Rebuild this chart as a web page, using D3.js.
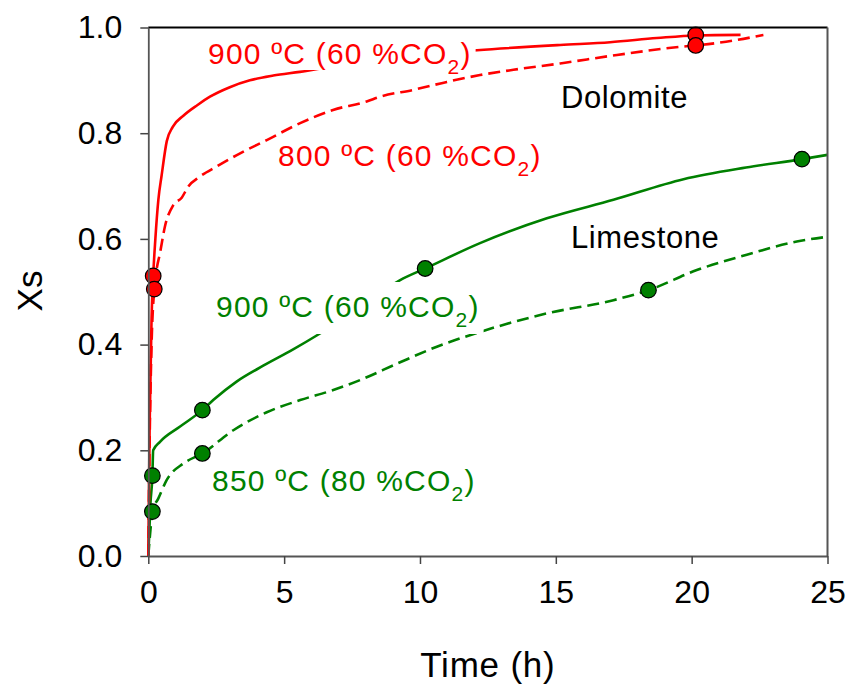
<!DOCTYPE html>
<html>
<head>
<meta charset="utf-8">
<script src="https://cdn.jsdelivr.net/npm/d3@7"></script>
<style>
    body { margin: 0; background: #fff; }
    text { font-family: Arial, "Liberation Sans", sans-serif; }
</style>
</head>
<body>
<svg id="chart" width="853" height="691"></svg>
<script>
// conversion curves (time in h, Xs)
const dolo900T = [0, 0.05, 0.12, 0.18, 0.26, 0.37, 0.49, 0.68, 0.9, 1.29, 1.8, 2.27, 3.0, 3.74, 4.6, 5.58, 7.5, 9.5, 12.1, 15.16, 17.0, 18.72, 20.15, 21.8];
const dolo900X = [0, 0.25, 0.45, 0.53, 0.6, 0.674, 0.72, 0.785, 0.812, 0.833, 0.853, 0.869, 0.887, 0.9, 0.909, 0.916, 0.932, 0.945, 0.957, 0.967, 0.972, 0.98, 0.985, 0.986];

const dolo800T = [0, 0.05, 0.12, 0.22, 0.3, 0.43, 0.61, 0.92, 1.23, 1.47, 1.9, 2.52, 3.38, 4.36, 5.59, 6.8, 8.04, 8.53, 9.76, 10.99, 12.21, 13.44, 15.16, 17.25, 19.7, 20.15, 21.5, 22.64];
const dolo800X = [0, 0.22, 0.4, 0.505, 0.54, 0.573, 0.623, 0.664, 0.678, 0.699, 0.718, 0.737, 0.762, 0.787, 0.819, 0.844, 0.86, 0.869, 0.882, 0.897, 0.91, 0.92, 0.932, 0.948, 0.964, 0.966, 0.975, 0.986];

const lime900T = [0, 0.08, 0.15, 0.18, 0.43, 1.17, 1.99, 2.39, 3.25, 4.23, 5.3, 6.32, 7.8, 9.27, 10.19, 12.21, 14.67, 17.12, 19.7, 22.0, 24.06, 25];
const lime900X = [0, 0.1, 0.152, 0.2, 0.216, 0.245, 0.276, 0.295, 0.33, 0.36, 0.39, 0.421, 0.47, 0.522, 0.544, 0.592, 0.639, 0.674, 0.713, 0.735, 0.751, 0.759];

const lime850T = [0, 0.08, 0.15, 0.37, 0.68, 1.29, 1.99, 3.13, 4.36, 5.59, 6.81, 7.8, 9.2, 10.62, 12.21, 14.67, 17.12, 18.41, 20.19, 22.03, 23.87, 25];
const lime850X = [0, 0.05, 0.084, 0.109, 0.144, 0.175, 0.194, 0.238, 0.272, 0.295, 0.314, 0.333, 0.365, 0.396, 0.424, 0.459, 0.484, 0.503, 0.541, 0.57, 0.595, 0.604];

// marked points
const redMarkT = [0.18, 0.22, 20.15, 20.15];
const redMarkX = [0.53, 0.505, 0.986, 0.966];
const greenMarkT = [0.15, 0.15, 1.99, 1.99, 10.19, 18.41, 24.06];
const greenMarkX = [0.152, 0.084, 0.276, 0.194, 0.544, 0.503, 0.751];

const xTicks = [0, 5, 10, 15, 20, 25];
const yTicks = [0, 0.2, 0.4, 0.6, 0.8, 1.0];

const RED = "#ff0000";
const GREEN = "#008000";

const svg = d3.select("#chart");
const margin = {left: 148.3, right: 25.5, top: 27.5, bottom: 135};
const width = 853 - margin.left - margin.right;
const height = 691 - margin.top - margin.bottom;

const x = d3.scaleLinear().domain([0, 25]).range([0, width]);
const y = d3.scaleLinear().domain([0, 1]).range([height, 0]);

const g = svg.append("g").attr("transform", `translate(${margin.left},${margin.top})`);

let zip = (ts, xs) => ts.map((t, i) => ({t: t, v: xs[i]}));
let line = d3.line().curve(d3.curveMonotoneX).x(d => x(d.t)).y(d => y(d.v));

const curves = [
    {data: zip(lime850T, lime850X), color: GREEN, dash: "12,6"},
    {data: zip(lime900T, lime900X), color: GREEN, dash: null},
    {data: zip(dolo800T, dolo800X), color: RED, dash: "12,6"},
    {data: zip(dolo900T, dolo900X), color: RED, dash: null}
];

g.selectAll(".curve")
    .data(curves)
    .enter()
    .append("path")
    .attr("class", "curve")
    .attr("d", d => line(d.data))
    .attr("fill", "none")
    .attr("stroke", d => d.color)
    .attr("stroke-width", 2.6)
    .attr("stroke-dasharray", d => d.dash);

// labels (white box hides the line behind, like the original)
const labels = [
    {x: 208, y: 64, main: "900 ºC (60 %CO", color: RED, box: [-31, 6]},
    {x: 278, y: 166, main: "800 ºC (60 %CO", color: RED, box: null},
    {x: 216, y: 317, main: "900 ºC (60 %CO", color: GREEN, box: [-35, 17]},
    {x: 212, y: 491, main: "850 ºC (80 %CO", color: GREEN, box: null}
];

labels.forEach(l => {
    let grp = svg.append("g");
    let rect = grp.append("rect").attr("fill", "#fff");
    let txt = grp.append("text")
        .attr("x", l.x)
        .attr("y", l.y)
        .attr("fill", l.color)
        .style("font-size", "30px")
        .style("letter-spacing", "1.2px");
    txt.append("tspan").text(l.main);
    txt.append("tspan").attr("dy", 10).style("font-size", "21px").text("2");
    txt.append("tspan").attr("dy", -10).text(")");
    if (l.box) {
        let bb = txt.node().getBBox();
        rect.attr("x", bb.x - 2).attr("y", l.y + l.box[0])
            .attr("width", bb.width + 6).attr("height", l.box[1] - l.box[0]);
    } else {
        rect.remove();
    }
});

svg.append("text").attr("x", 561).attr("y", 108).style("font-size", "31px")
    .style("letter-spacing", "0.6px").attr("fill", "#000").text("Dolomite");
svg.append("text").attr("x", 571).attr("y", 248).style("font-size", "31px")
    .style("letter-spacing", "0.6px").attr("fill", "#000").text("Limestone");

// markers
let marks = zip(greenMarkT, greenMarkX).map(d => ({...d, color: GREEN}))
    .concat(zip(redMarkT, redMarkX).map(d => ({...d, color: RED})));
g.selectAll(".mark")
    .data(marks)
    .enter()
    .append("circle")
    .attr("class", "mark")
    .attr("cx", d => x(d.t))
    .attr("cy", d => y(d.v))
    .attr("r", 7.8)
    .attr("fill", d => d.color)
    .attr("stroke", "#000")
    .attr("stroke-width", 1.2);

// frame
g.append("line").attr("x1", 0).attr("x2", width).attr("y1", 0).attr("y2", 0)
    .attr("stroke", "#000").attr("stroke-width", 2);
g.append("line").attr("x1", width).attr("x2", width).attr("y1", 0).attr("y2", height)
    .attr("stroke", "#555").attr("stroke-width", 2);

// axes
let xAxis = g.append("g")
    .attr("transform", `translate(0,${height})`)
    .call(d3.axisBottom(x).tickValues(xTicks).tickSize(8).tickSizeOuter(0).tickPadding(16).tickFormat(d3.format("d")));
let yAxis = g.append("g")
    .call(d3.axisLeft(y).tickValues(yTicks).tickSize(8).tickSizeOuter(0).tickPadding(18).tickFormat(d3.format(".1f")));

[xAxis, yAxis].forEach(a => {
    a.select(".domain").attr("stroke", "#555").attr("stroke-width", 1.8);
    a.selectAll(".tick line").attr("stroke", "#444").attr("stroke-width", 1.5);
    a.selectAll(".tick text")
        .attr("fill", "#000")
        .style("font-family", "Arial, 'Liberation Sans', sans-serif")
        .style("font-size", "32px");
});

svg.append("text")
    .attr("x", margin.left + width / 2)
    .attr("y", 677)
    .attr("text-anchor", "middle")
    .style("font-size", "35px")
    .style("letter-spacing", "0.8px")
    .text("Time (h)");

svg.append("text")
    .attr("transform", "translate(42,291) rotate(-90)")
    .attr("text-anchor", "middle")
    .style("font-size", "35px")
    .text("Xs");
</script>
</body>
</html>
